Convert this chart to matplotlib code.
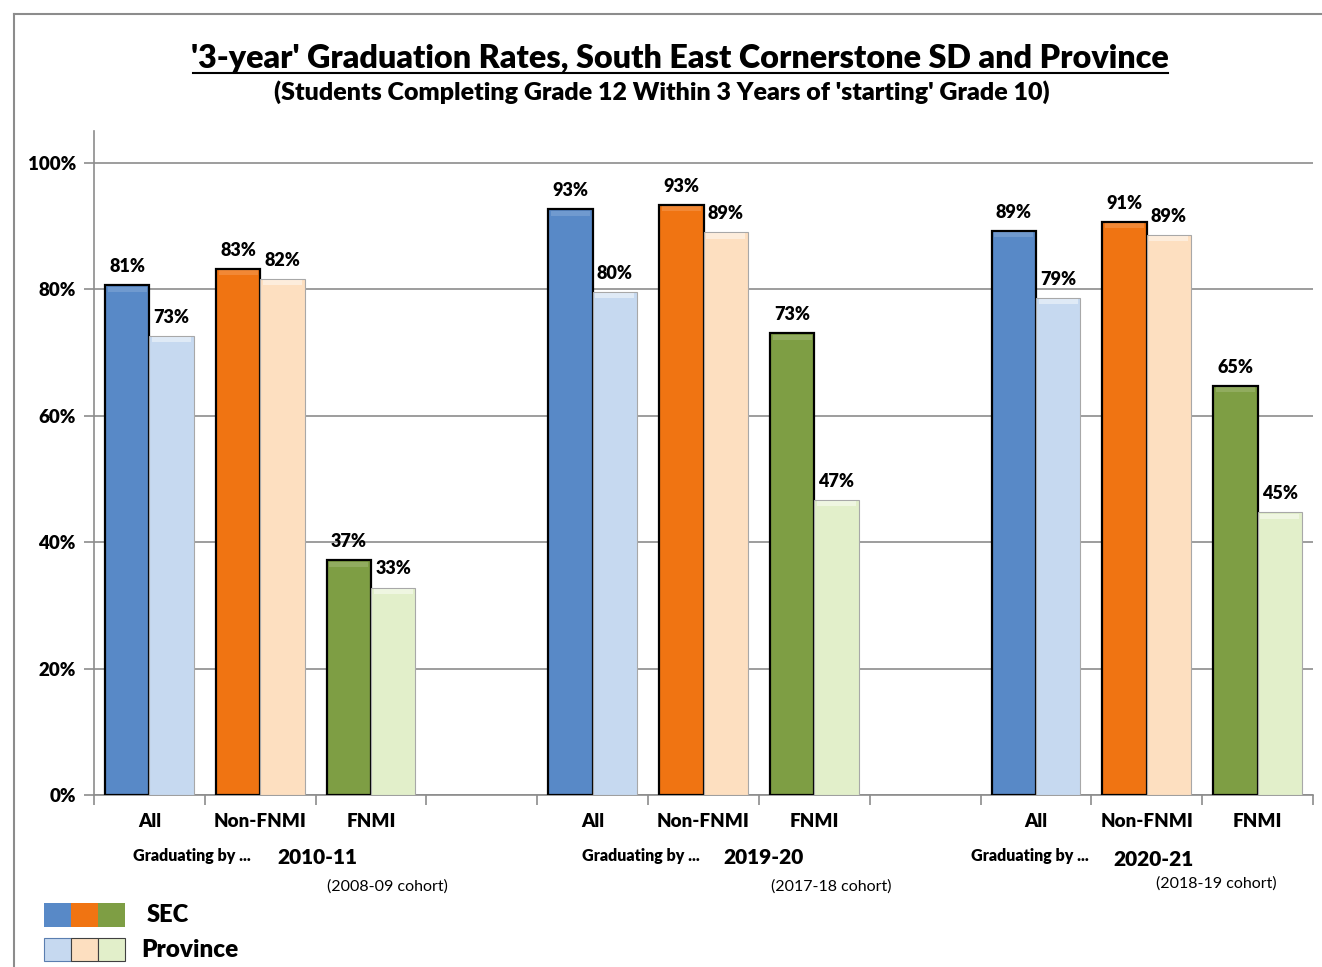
import matplotlib
matplotlib.use("Agg")
import matplotlib.pyplot as plt
from matplotlib.patches import Rectangle
import numpy as np

# ---- data ----
categories = ["All", "Non-FNMI", "FNMI"]
years = ["2010-11", "2019-20", "2020-21"]
cohorts = ["(2008-09 cohort)", "(2017-18 cohort)", "(2018-19 cohort)"]
sec_values = [[80.6, 83.2, 37.1], [92.6, 93.3, 73.0], [89.2, 90.6, 64.7]]
prov_values = [[72.6, 81.6, 32.8], [79.6, 89.0, 46.7], [78.6, 88.6, 44.7]]
y_ticks = [0, 20, 40, 60, 80, 100]

sec_colors = ["#5889C7", "#F07412", "#7E9E44"]
prov_colors = ["#C6D9F0", "#FDDFC0", "#E2EFCA"]

FONT = "Lato"
plt.rcParams["font.family"] = [FONT, "DejaVu Sans"]

fig = plt.figure(figsize=(13.22, 9.67), dpi=100)
ax = fig.add_axes([94 / 1322, 1 - 795 / 967, 1219 / 1322, 664 / 967])

# figure border (only left and top visible)
fig.lines.append(plt.Line2D([14 / 1322, 14 / 1322], [0, 1 - 14 / 967], transform=fig.transFigure,
                            color="#8C8C8C", linewidth=1.5))
fig.lines.append(plt.Line2D([14 / 1322, 1], [1 - 14 / 967, 1 - 14 / 967], transform=fig.transFigure,
                            color="#8C8C8C", linewidth=1.5))

bw = 0.4
for g in range(3):
    for c in range(3):
        s = g * 4 + c
        xc = s + 0.5
        sv = sec_values[g][c]
        pv = prov_values[g][c]
        ax.bar(xc - bw / 2, sv, width=bw, color=sec_colors[c], edgecolor="black", linewidth=1.6, zorder=3)
        ax.bar(xc + bw / 2, pv, width=bw, color=prov_colors[c], edgecolor="#A8A8A8", linewidth=0.8, zorder=3)
        # subtle bevel highlight at top
        ax.bar(xc - bw / 2, 0.8, bottom=sv - 1.0, width=bw * 0.88, color="white", alpha=0.15, linewidth=0, zorder=4)
        ax.bar(xc + bw / 2, 0.8, bottom=pv - 1.0, width=bw * 0.88, color="white", alpha=0.45, linewidth=0, zorder=4)
        ax.text(xc - bw / 2, sv + 1.6, f"{round(sv)}%", ha="center", va="bottom",
                fontsize=13, fontweight="heavy", zorder=5)
        ax.text(xc + bw / 2, pv + 1.6, f"{round(pv)}%", ha="center", va="bottom",
                fontsize=13, fontweight="heavy", zorder=5)

ax.set_xlim(0, 11)
ax.set_ylim(0, 105)
ax.set_yticks(y_ticks)
ax.set_yticklabels([f"{v}%" for v in y_ticks], fontsize=13.5, fontweight="heavy")
ax.set_xticks(np.arange(0, 12))
ax.set_xticklabels([])
ax.tick_params(axis="both", direction="out", length=7, color="#8C8C8C", width=1.2)
ax.tick_params(axis="y", pad=6)
ax.grid(axis="y", color="#8C8C8C", linewidth=1.2, zorder=0)
for sp in ["top", "right"]:
    ax.spines[sp].set_visible(False)
for sp in ["left", "bottom"]:
    ax.spines[sp].set_color("#8C8C8C")
    ax.spines[sp].set_linewidth(1.2)

# category labels
trans = ax.get_xaxis_transform()
for g in range(3):
    for c in range(3):
        ax.text(g * 4 + c + 0.5, -0.04, categories[c], transform=trans, ha="center", va="center",
                fontsize=13.5, fontweight="heavy")


def ftext(x, y, s, **kw):
    fig.text(x / 1322, 1 - y / 967, s, **kw)


grad_x = [192, 641, 1030]
year_x = [317, 763, 1154]
year_y = [857, 857, 860]
coh_x = [387, 831, 1216]
coh_y = [887, 887, 884]
for g in range(3):
    ftext(grad_x[g], 856, "Graduating by ...", ha="center", va="center", fontsize=11.5, fontweight="heavy")
    ftext(year_x[g], year_y[g], years[g], ha="center", va="center", fontsize=15, fontweight="heavy")
    ftext(coh_x[g], coh_y[g], cohorts[g], ha="center", va="center", fontsize=11.5)

# title
ftext(680, 58, "'3-year' Graduation Rates, South East Cornerstone SD and Province",
      ha="center", va="center", fontsize=23.2, fontweight="heavy")
fig.lines.append(plt.Line2D([193 / 1322, 1168 / 1322], [1 - 73 / 967, 1 - 73 / 967],
                            transform=fig.transFigure, color="black", linewidth=1.5))
ftext(662, 92, "(Students Completing Grade 12 Within 3 Years of 'starting' Grade 10)",
      ha="center", va="center", fontsize=18, fontweight="heavy")

# legend
for i in range(3):
    x0 = 44 + i * 27
    fig.patches.append(Rectangle((x0 / 1322, 1 - 927 / 967), 27 / 1322, 24 / 967,
                                 transform=fig.transFigure, facecolor=sec_colors[i],
                                 edgecolor="none"))
    fig.patches.append(Rectangle((x0 / 1322, 1 - 961 / 967), 27 / 1322, 23 / 967,
                                 transform=fig.transFigure, facecolor=prov_colors[i],
                                 edgecolor="#5A7EB0" if i == 0 else "#404040", linewidth=0.8))
ftext(147, 915, "SEC", ha="left", va="center", fontsize=17, fontweight="heavy")
ftext(141, 950, "Province", ha="left", va="center", fontsize=17.5, fontweight="heavy")

fig.savefig("out.png", dpi=100)
